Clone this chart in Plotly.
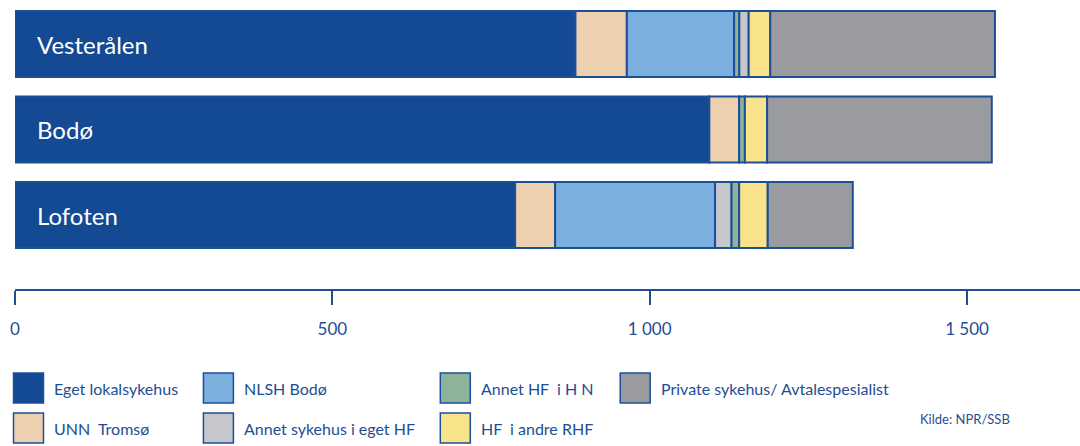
import plotly.graph_objects as go

categories = ["Vesterålen", "Bodø", "Lofoten"]
series_names = ["Eget lokalsykehus", "UNN  Tromsø", "NLSH Bodø", "Annet sykehus i eget HF",
                "Annet HF  i H N", "HF  i andre RHF", "Private sykehus/ Avtalespesialist"]
eget = [883, 1094, 788]
unn = [81, 47, 63]
nlsh = [169, 0, 252]
annet_eget_hf = [15, 0, 26]
annet_hf_hn = [8, 9, 12]
hf_andre_rhf = [34, 35, 45]
private = [354, 354, 134]
tick_vals = [0, 500, 1000, 1500]
tick_text = ["0", "500", "1 000", "1 500"]

values = [eget, unn, nlsh, annet_eget_hf, annet_hf_hn, hf_andre_rhf, private]
colors = ["#134A93", "#EDD0B0", "#7AAFDE", "#C5C7CB", "#8DB39B", "#F8E38A", "#9A9B9E"]
# stacking order of segments within each bar (indices into values)
stack_order = {
    "Vesterålen": [0, 1, 2, 4, 3, 5, 6],
    "Bodø": [0, 1, 2, 4, 3, 5, 6],
    "Lofoten": [0, 1, 2, 3, 4, 5, 6],
}

bases = [[0] * len(categories) for _ in values]
for ci, cat in enumerate(categories):
    acc = 0
    for si in stack_order[cat]:
        bases[si][ci] = acc
        acc += values[si][ci]

BLUE = "#1F4E93"
EDGE = "#1C4F98"

fig = go.Figure()
for si, name in enumerate(series_names):
    xs = [v if v > 0 else None for v in values[si]]
    fig.add_trace(go.Bar(
        y=categories, x=xs, base=bases[si], orientation="h", name=name,
        marker=dict(color=colors[si], line=dict(color=EDGE, width=2)),
        showlegend=False, hoverinfo="skip",
    ))

for cat in categories:
    fig.add_annotation(x=0, y=cat, xref="x", yref="y", text=cat, showarrow=False,
                       xanchor="left", xshift=20, font=dict(color="white", size=24, family="Lato"))

L, PW, PH = 14.5, 1065.5, 289.0
def px(x):
    return (x - L) / PW
def py(y):
    return (PH - y) / PH

legend_cols = [13, 203, 440, 620]
legend_rows = [388, 428]
legend_pos = [(0, 0), (0, 1), (1, 0), (1, 1), (2, 0), (2, 1), (3, 0)]
for si, name in enumerate(series_names):
    c, r = legend_pos[si]
    x0 = legend_cols[c]
    yc = legend_rows[r]
    fig.add_shape(type="rect", xref="paper", yref="paper",
                  x0=px(x0), x1=px(x0 + 30), y0=py(yc - 15), y1=py(yc + 15),
                  fillcolor=colors[si], line=dict(color=EDGE, width=1.5))
    fig.add_annotation(xref="paper", yref="paper", x=px(x0 + 39), y=py(yc), text=name,
                       showarrow=False, xanchor="left", yanchor="middle",
                       font=dict(color=BLUE, size=16, family="Lato"))

fig.add_annotation(xref="paper", yref="paper", x=px(918), y=py(419), text="Kilde: NPR/SSB",
                   showarrow=False, xanchor="left", yanchor="middle",
                   font=dict(color=BLUE, size=13, family="Lato"))

fig.update_layout(
    width=1080, height=446, barmode="overlay", bargap=0.23,
    margin=dict(l=14.5, r=0, t=0, b=157),
    plot_bgcolor="white", paper_bgcolor="white",
    xaxis=dict(range=[0, 1678], tickvals=tick_vals, ticktext=tick_text, showgrid=False,
               zeroline=False, showline=True, linecolor=BLUE, linewidth=2,
               ticks="outside", ticklen=14, tickwidth=2, tickcolor=BLUE,
               ticklabelstandoff=10, tickfont=dict(color=BLUE, size=17, family="Lato")),
    yaxis=dict(range=[2.865, -0.515], showticklabels=False, showgrid=False, zeroline=False,
               showline=False, ticks=""),
)
fig.write_html("out.html", config={"displayModeBar": False},
               post_script="document.body.style.margin='0';")
